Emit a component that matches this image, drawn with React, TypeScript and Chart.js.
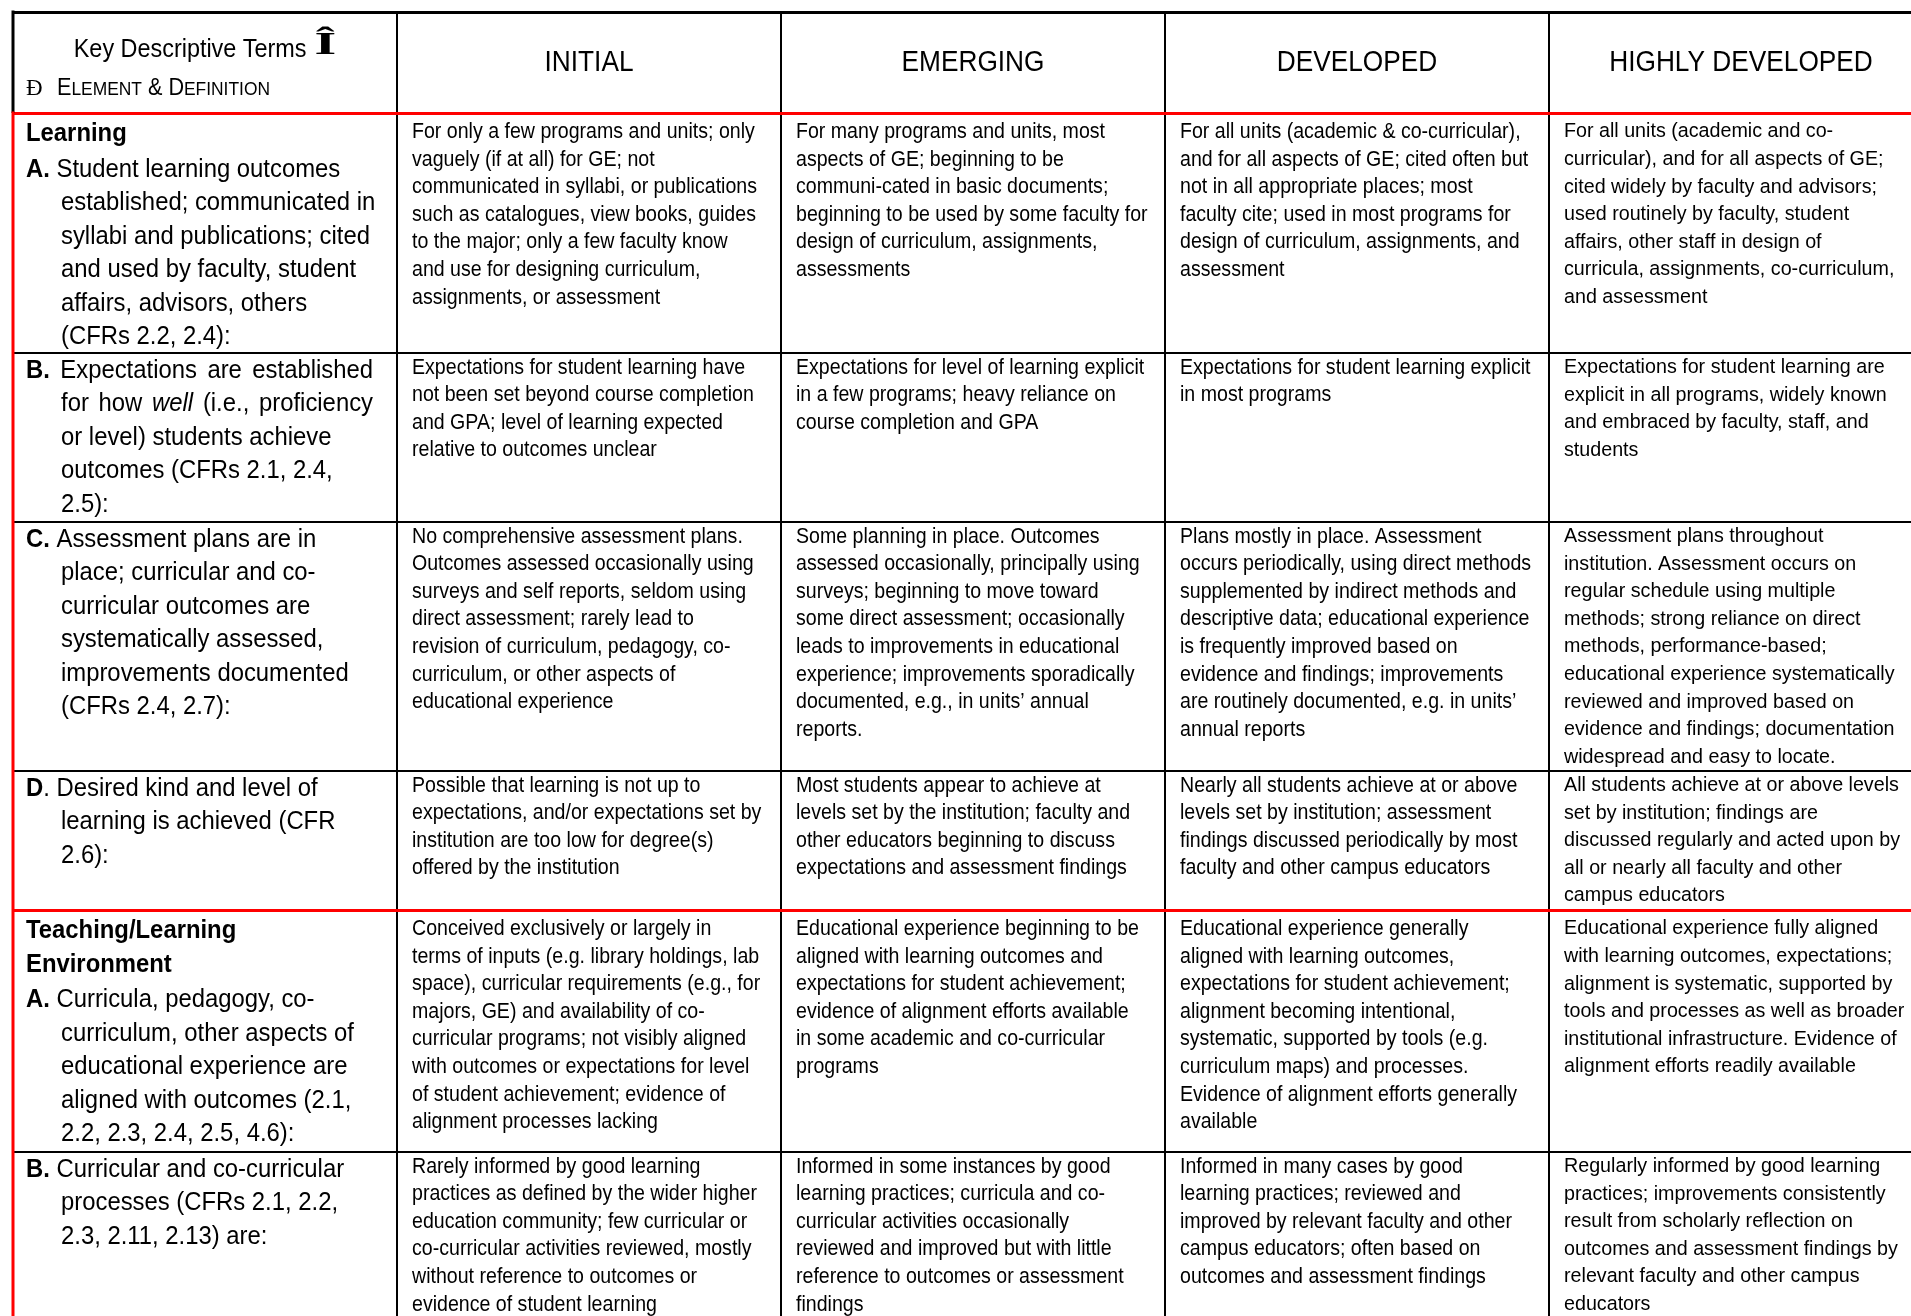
import React, { useEffect, useRef } from 'react';
import { Chart, registerables } from 'chart.js';

Chart.register(...registerables);

// ---------------- DATA ----------------
const LEVELS = ['INITIAL', 'EMERGING', 'DEVELOPED', 'HIGHLY DEVELOPED'];
const HEADER_TERMS = 'Key Descriptive Terms';
const HEADER_TERMS_MARK = 'Î';
const HEADER_ELEMENT_MARK = 'Ð';
const HEADER_ELEMENT = 'Element & Definition';

const SECTION_TITLES: string[][] = [['Learning'], [], [], [], ['Teaching/Learning', 'Environment'], []];

const ELEMENT_LINES: string[][] = [
  ['**A.** Student learning outcomes', 'established; communicated in', 'syllabi and publications; cited', 'and used by faculty, student', 'affairs, advisors, others', '(CFRs 2.2, 2.4):'],
  ['**B.** Expectations are established', 'for how _well_ (i.e., proficiency', 'or level) students achieve', 'outcomes (CFRs 2.1, 2.4,', '2.5):'],
  ['**C.** Assessment plans are in', 'place; curricular and co-', 'curricular outcomes are', 'systematically assessed,', 'improvements documented', '(CFRs 2.4, 2.7):'],
  ['**D**. Desired kind and level of', 'learning is achieved (CFR', '2.6):'],
  ['**A.** Curricula, pedagogy, co-', 'curriculum, other aspects of', 'educational experience are', 'aligned with outcomes (2.1,', '2.2, 2.3, 2.4, 2.5, 4.6):'],
  ['**B.** Curricular and co-curricular', 'processes (CFRs 2.1, 2.2,', '2.3, 2.11, 2.13) are:'],
];

const INITIAL_TEXT: string[][] = [
  ['For only a few programs and units; only', 'vaguely (if at all) for GE; not', 'communicated in syllabi, or publications', 'such as catalogues, view books, guides', 'to the major; only a few faculty know', 'and use for designing curriculum,', 'assignments, or assessment'],
  ['Expectations for student learning have', 'not been set beyond course completion', 'and GPA; level of learning expected', 'relative to outcomes unclear'],
  ['No comprehensive assessment plans.', 'Outcomes assessed occasionally using', 'surveys and self reports, seldom using', 'direct assessment; rarely lead to', 'revision of curriculum, pedagogy, co-', 'curriculum, or other aspects of', 'educational experience'],
  ['Possible that learning is not up to', 'expectations, and/or expectations set by', 'institution are too low for degree(s)', 'offered by the institution'],
  ['Conceived exclusively or largely in', 'terms of inputs (e.g. library holdings, lab', 'space), curricular requirements (e.g., for', 'majors, GE) and availability of co-', 'curricular programs; not visibly aligned', 'with outcomes or expectations for level', 'of student achievement; evidence of', 'alignment processes lacking'],
  ['Rarely informed by good learning', 'practices as defined by the wider higher', 'education community; few curricular or', 'co-curricular activities reviewed, mostly', 'without reference to outcomes or', 'evidence of student learning'],
];

const EMERGING_TEXT: string[][] = [
  ['For many programs and units, most', 'aspects of GE; beginning to be', 'communi-cated in basic documents;', 'beginning to be used by some faculty for', 'design of curriculum, assignments,', 'assessments'],
  ['Expectations for level of learning explicit', 'in a few programs; heavy reliance on', 'course completion and GPA'],
  ['Some planning in place. Outcomes', 'assessed occasionally, principally using', 'surveys; beginning to move toward', 'some direct assessment; occasionally', 'leads to improvements in educational', 'experience; improvements sporadically', 'documented, e.g., in units\u2019 annual', 'reports.'],
  ['Most students appear to achieve at', 'levels set by the institution; faculty and', 'other educators beginning to discuss', 'expectations and assessment findings'],
  ['Educational experience beginning to be', 'aligned with learning outcomes and', 'expectations for student achievement;', 'evidence of alignment efforts available', 'in some academic and co-curricular', 'programs'],
  ['Informed in some instances by good', 'learning practices; curricula and co-', 'curricular activities occasionally', 'reviewed and improved but with little', 'reference to outcomes or assessment', 'findings'],
];

const DEVELOPED_TEXT: string[][] = [
  ['For all units (academic & co-curricular),', 'and for all aspects of GE; cited often but', 'not in all appropriate places; most', 'faculty cite; used in most programs for', 'design of curriculum, assignments, and', 'assessment'],
  ['Expectations for student learning explicit', 'in most programs'],
  ['Plans mostly in place. Assessment', 'occurs periodically, using direct methods', 'supplemented by indirect methods and', 'descriptive data; educational experience', 'is frequently improved based on', 'evidence and findings; improvements', 'are routinely documented, e.g. in units\u2019', 'annual reports'],
  ['Nearly all students achieve at or above', 'levels set by institution; assessment', 'findings discussed periodically by most', 'faculty and other campus educators'],
  ['Educational experience generally', 'aligned with learning outcomes,', 'expectations for student achievement;', 'alignment becoming intentional,', 'systematic, supported by tools (e.g.', 'curriculum maps) and processes.', 'Evidence of alignment efforts generally', 'available'],
  ['Informed in many cases by good', 'learning practices; reviewed and', 'improved by relevant faculty and other', 'campus educators; often based on', 'outcomes and assessment findings'],
];

const HIGHLY_DEVELOPED_TEXT: string[][] = [
  ['For all units (academic and co-', 'curricular), and for all aspects of GE;', 'cited widely by faculty and advisors;', 'used routinely by faculty, student', 'affairs, other staff in design of', 'curricula, assignments, co-curriculum,', 'and assessment'],
  ['Expectations for student learning are', 'explicit in all programs, widely known', 'and embraced by faculty, staff, and', 'students'],
  ['Assessment plans throughout', 'institution. Assessment occurs on', 'regular schedule using multiple', 'methods; strong reliance on direct', 'methods, performance-based;', 'educational experience systematically', 'reviewed and improved based on', 'evidence and findings; documentation', 'widespread and easy to locate.'],
  ['All students achieve at or above levels', 'set by institution; findings are', 'discussed regularly and acted upon by', 'all or nearly all faculty and other', 'campus educators'],
  ['Educational experience fully aligned', 'with learning outcomes, expectations;', 'alignment is systematic, supported by', 'tools and processes as well as broader', 'institutional infrastructure. Evidence of', 'alignment efforts readily available'],
  ['Regularly informed by good learning', 'practices; improvements consistently', 'result from scholarly reflection on', 'outcomes and assessment findings by', 'relevant faculty and other campus', 'educators'],
];

const LEVEL_TEXTS = [INITIAL_TEXT, EMERGING_TEXT, DEVELOPED_TEXT, HIGHLY_DEVELOPED_TEXT];

// ---------------- LAYOUT / STYLE ----------------
const CANVAS_W = 1911;
const CANVAS_H = 1316;
const PAD_LEFT = 13;
const PAD_TOP = 12;
const COL_WIDTH = 384;
const HEADER_HEIGHT = 101;
const ROW_HEIGHTS = [240, 169, 249, 139, 242, 230];
const RED_ROWS = [0, 4]; // section starts (red line above)
const JUSTIFIED: Record<number, number[]> = { 1: [0, 1] };

const SANS = '"Liberation Sans", Arial, Helvetica, sans-serif';
const SERIF = '"Liberation Serif", "DejaVu Serif", serif';
const RED = '#ff0000';
const BLACK = '#000000';

const BODY_SIZE = 22;
const BODY_SCALE = 0.89;
const LAST_SIZE = 19.7;
const LAST_SCALE = 1.0;
const BODY_LINE = 27.6;
const BODY_DY = 14.5;
const BODY_DY_RED = 19;
const BODY_PAD = 15;

const LEFT_SIZE = 26.5;
const LEFT_SCALE = 0.9;
const LEFT_LINE = 33.5;
const LEFT_DY = 17.5;
const LEFT_DY_RED = 21;
const LEFT_TITLE_GAP = 2;
const LEFT_X = 13;
const LEFT_INDENT = 48;
const LEFT_RIGHT_PAD = 24;

const TITLE_SIZE = 29.5;
const TITLE_SCALE = 0.89;

const TERMS_SIZE = 26;
const TERMS_SCALE = 0.9;
const MARK_SIZE = 31;
const MARK_SCALE = 1.8;
const SMALLCAP_BIG = 23;
const SMALLCAP_SMALL = 18.5;
const SMALLCAP_SCALE = 0.94;

const ROW_BOUNDS: number[] = (() => {
  const b = [0, HEADER_HEIGHT];
  ROW_HEIGHTS.forEach((h) => b.push(b[b.length - 1] + h));
  return b;
})();
const RED_BOUNDS = [HEADER_HEIGHT, ...RED_ROWS.filter((r) => r > 0).map((r) => ROW_BOUNDS[r + 1])];
const X_MAX = (CANVAS_W - PAD_LEFT) / COL_WIDTH;
const Y_MAX = CANVAS_H - PAD_TOP;

type Seg = { t: string; b: boolean; i: boolean };

function parseRuns(s: string): Seg[] {
  const parts = s.split(/(\*\*[^*]+\*\*|_[^_]+_)/).filter((p) => p.length > 0);
  return parts.map((p) => {
    if (p.startsWith('**')) return { t: p.slice(2, -2), b: true, i: false };
    if (p.startsWith('_') && p.endsWith('_') && p.length > 1) return { t: p.slice(1, -1), b: false, i: true };
    return { t: p, b: false, i: false };
  });
}

function toWords(runs: Seg[]): Seg[][] {
  const words: Seg[][] = [[]];
  runs.forEach((r) => {
    const pieces = r.t.split(' ');
    pieces.forEach((p, k) => {
      if (k > 0) words.push([]);
      if (p.length) words[words.length - 1].push({ t: p, b: r.b, i: r.i });
    });
  });
  return words.filter((w) => w.length > 0);
}

function fontStr(size: number, b: boolean, i: boolean, fam = SANS) {
  return `${i ? 'italic ' : ''}${b ? 'bold ' : ''}${size}px ${fam}`;
}

function drawScaled(ctx: CanvasRenderingContext2D, t: string, x: number, y: number, h: number) {
  ctx.save();
  ctx.translate(x, y);
  ctx.scale(h, 1);
  ctx.fillText(t, 0, 0);
  ctx.restore();
}

function drawMarkup(ctx: CanvasRenderingContext2D, line: string, x: number, y: number, size: number, h: number, justifyTo?: number) {
  const words = toWords(parseRuns(line));
  const widths = words.map((w) =>
    w.reduce((acc, s) => {
      ctx.font = fontStr(size, s.b, s.i);
      return acc + ctx.measureText(s.t).width * h;
    }, 0)
  );
  ctx.font = fontStr(size, false, false);
  let gap = ctx.measureText(' ').width * h;
  if (justifyTo !== undefined && words.length > 1) {
    const nat = widths.reduce((a, b) => a + b, 0);
    gap = (justifyTo - x - nat) / (words.length - 1);
  }
  let cx = x;
  words.forEach((w, k) => {
    let sx = cx;
    w.forEach((s) => {
      ctx.font = fontStr(size, s.b, s.i);
      drawScaled(ctx, s.t, sx, y, h);
      sx += ctx.measureText(s.t).width * h;
    });
    cx += widths[k] + gap;
  });
}

const tablePlugin = {
  id: 'rubricTable',
  afterDraw(chart: any) {
    const ctx: CanvasRenderingContext2D = chart.ctx;
    const xs = chart.scales.x;
    const ys = chart.scales.y;
    ctx.save();
    ctx.fillStyle = BLACK;
    ctx.textBaseline = 'middle';
    ctx.textAlign = 'left';

    // left border: black in header, red in body
    const lx = xs.getPixelForValue(0);
    const yTop = ys.getPixelForValue(0);
    const yHead = ys.getPixelForValue(HEADER_HEIGHT);
    ctx.lineWidth = 3;
    ctx.strokeStyle = BLACK;
    ctx.beginPath();
    ctx.moveTo(lx, yTop - 1.5);
    ctx.lineTo(lx, yHead);
    ctx.stroke();
    ctx.strokeStyle = RED;
    ctx.beginPath();
    ctx.moveTo(lx, yHead - 1.5);
    ctx.lineTo(lx, CANVAS_H);
    ctx.stroke();

    // header: first column
    const c0 = xs.getPixelForValue(0.5);
    ctx.font = fontStr(TERMS_SIZE, false, false);
    const termsW = ctx.measureText(HEADER_TERMS).width * TERMS_SCALE;
    ctx.font = fontStr(MARK_SIZE, true, false, SERIF);
    const markW = ctx.measureText(HEADER_TERMS_MARK).width * MARK_SCALE;
    const gapW = 8;
    const groupW = termsW + gapW + markW;
    const hx = c0 - groupW / 2;
    ctx.font = fontStr(TERMS_SIZE, false, false);
    drawScaled(ctx, HEADER_TERMS, hx, yTop + 38, TERMS_SCALE);
    ctx.font = fontStr(MARK_SIZE, true, false, SERIF);
    drawScaled(ctx, HEADER_TERMS_MARK, hx + termsW + gapW, yTop + 34, MARK_SCALE);

    ctx.font = fontStr(23, false, false, SERIF);
    ctx.fillText(HEADER_ELEMENT_MARK, lx + 13, yTop + 77);
    let ex = lx + 44;
    for (const ch of HEADER_ELEMENT) {
      const small = /[a-z]/.test(ch);
      const size = small ? SMALLCAP_SMALL : SMALLCAP_BIG;
      ctx.font = fontStr(size, false, false);
      const t = ch.toUpperCase();
      drawScaled(ctx, t, ex, yTop + 77 + (small ? 0.8 : 0), SMALLCAP_SCALE);
      ex += ctx.measureText(t).width * SMALLCAP_SCALE;
    }

    // header: levels
    ctx.textAlign = 'center';
    LEVELS.forEach((lvl, c) => {
      ctx.font = fontStr(TITLE_SIZE, false, false);
      drawScaled(ctx, lvl, xs.getPixelForValue(c + 1.5), yTop + 51, TITLE_SCALE);
    });
    ctx.textAlign = 'left';

    // rows
    ELEMENT_LINES.forEach((lines, r) => {
      const top = ys.getPixelForValue(ROW_BOUNDS[r + 1]);
      const isRed = RED_ROWS.includes(r);
      let y = top + (isRed ? LEFT_DY_RED : LEFT_DY);
      SECTION_TITLES[r].forEach((t) => {
        drawMarkup(ctx, `**${t}**`, lx + LEFT_X, y, LEFT_SIZE, LEFT_SCALE);
        y += LEFT_LINE;
      });
      if (SECTION_TITLES[r].length) y += LEFT_TITLE_GAP;
      const rightEdge = xs.getPixelForValue(1) - LEFT_RIGHT_PAD;
      lines.forEach((ln, k) => {
        const x = lx + (k === 0 ? LEFT_X : LEFT_INDENT);
        const just = (JUSTIFIED[r] || []).includes(k) ? rightEdge : undefined;
        drawMarkup(ctx, ln, x, y, LEFT_SIZE, LEFT_SCALE, just);
        y += LEFT_LINE;
      });

      const bodyTop = top + (isRed ? BODY_DY_RED : BODY_DY);
      LEVEL_TEXTS.forEach((col, c) => {
        const x = xs.getPixelForValue(c + 1) + BODY_PAD;
        const last = c === LEVEL_TEXTS.length - 1;
        const size = last ? LAST_SIZE : BODY_SIZE;
        const hs = last ? LAST_SCALE : BODY_SCALE;
        ctx.font = fontStr(size, false, false);
        col[r].forEach((ln, k) => {
          drawScaled(ctx, ln, x, bodyTop + k * BODY_LINE, hs);
        });
      });
    });
    ctx.restore();
  },
};

export default function App() {
  const canvasRef = useRef<HTMLCanvasElement | null>(null);

  useEffect(() => {
    const canvas = canvasRef.current;
    if (!canvas) return;
    const cells: { x: number; y: number }[] = [];
    ELEMENT_LINES.forEach((_, r) => {
      for (let c = 0; c <= LEVELS.length; c++) {
        cells.push({ x: c + 0.5, y: (ROW_BOUNDS[r + 1] + ROW_BOUNDS[r + 2]) / 2 });
      }
    });
    const chart = new Chart(canvas, {
      type: 'scatter',
      data: {
        datasets: [
          {
            data: cells,
            pointRadius: 0,
            pointHoverRadius: 0,
            showLine: false,
          },
        ],
      },
      options: {
        animation: false,
        responsive: false,
        devicePixelRatio: 1,
        events: [],
        layout: { padding: { left: PAD_LEFT, top: PAD_TOP, right: 0, bottom: 0 } },
        plugins: { legend: { display: false }, tooltip: { enabled: false } },
        scales: {
          x: {
            type: 'linear',
            min: 0,
            max: X_MAX,
            afterBuildTicks: (s: any) => {
              const t = [];
              for (let c = 1; c <= LEVELS.length; c++) if (c <= X_MAX) t.push({ value: c });
              s.ticks = t;
            },
            afterFit: (s: any) => {
              s.height = 0;
            },
            ticks: { display: false },
            border: { display: false },
            grid: { color: BLACK, lineWidth: 2, drawTicks: false },
          },
          y: {
            type: 'linear',
            reverse: true,
            min: 0,
            max: Y_MAX,
            afterBuildTicks: (s: any) => {
              s.ticks = ROW_BOUNDS.filter((v) => v <= Y_MAX).map((v) => ({ value: v }));
            },
            afterFit: (s: any) => {
              s.width = 0;
            },
            ticks: { display: false },
            border: { display: false },
            grid: {
              drawTicks: false,
              color: (c: any) => (RED_BOUNDS.includes(c.tick?.value) ? RED : BLACK),
              lineWidth: (c: any) => (RED_BOUNDS.includes(c.tick?.value) ? 3 : c.tick?.value === 0 ? 3 : 2),
            },
          },
        },
      },
      plugins: [tablePlugin],
    } as any);
    return () => chart.destroy();
  }, []);

  return (
    <div style={{ position: 'absolute', left: 0, top: 0, width: CANVAS_W, height: CANVAS_H, overflow: 'hidden', background: '#fff' }}>
      <canvas ref={canvasRef} width={CANVAS_W} height={CANVAS_H} style={{ display: 'block' }} />
    </div>
  );
}
